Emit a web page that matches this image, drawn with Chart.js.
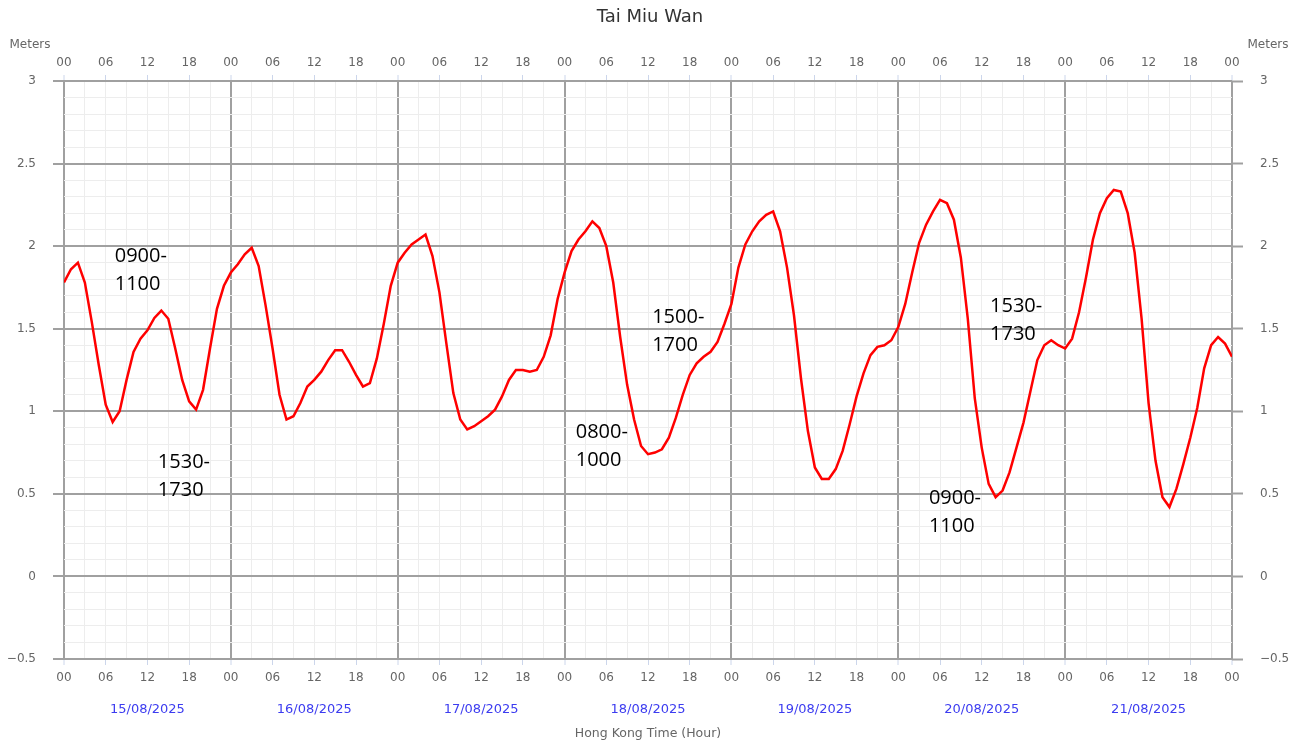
<!DOCTYPE html>
<html>
<head>
<meta charset="utf-8">
<title>Tai Miu Wan</title>
<script src="https://cdn.jsdelivr.net/npm/chart.js@4.4.1/dist/chart.umd.min.js"></script>
<style>
  html, body { margin: 0; padding: 0; background: #ffffff; }
  #wrap { width: 1300px; height: 745px; position: relative; }
</style>
</head>
<body>
<div id="wrap"><canvas id="tide"></canvas></div>
<script>
// Station and calendar
const stationName = 'Tai Miu Wan';
const dayLabels = ['15/08/2025', '16/08/2025', '17/08/2025', '18/08/2025', '19/08/2025', '20/08/2025', '21/08/2025'];

// Hourly tide height (m), 00:00 .. 23:00 of each day
const tide15 = [1.78, 1.86, 1.90, 1.78, 1.54, 1.28, 1.04, 0.935, 1.00, 1.19, 1.36, 1.44, 1.49, 1.565, 1.61, 1.56, 1.38, 1.19, 1.06, 1.01, 1.13, 1.38, 1.62, 1.76];
const tide16 = [1.84, 1.89, 1.95, 1.99, 1.88, 1.64, 1.38, 1.10, 0.95, 0.97, 1.05, 1.15, 1.19, 1.24, 1.31, 1.37, 1.37, 1.30, 1.22, 1.15, 1.17, 1.32, 1.53, 1.76];
const tide17 = [1.90, 1.96, 2.01, 2.04, 2.07, 1.94, 1.72, 1.41, 1.11, 0.95, 0.89, 0.91, 0.94, 0.97, 1.01, 1.09, 1.19, 1.25, 1.25, 1.24, 1.25, 1.33, 1.46, 1.68];
const tide18 = [1.84, 1.97, 2.04, 2.09, 2.15, 2.11, 2.00, 1.78, 1.45, 1.16, 0.95, 0.79, 0.74, 0.75, 0.77, 0.84, 0.96, 1.10, 1.22, 1.29, 1.33, 1.36, 1.42, 1.53];
const tide19 = [1.65, 1.87, 2.01, 2.09, 2.15, 2.19, 2.21, 2.09, 1.87, 1.58, 1.20, 0.88, 0.66, 0.59, 0.59, 0.65, 0.76, 0.92, 1.09, 1.23, 1.34, 1.39, 1.40, 1.43];
const tide20 = [1.51, 1.65, 1.84, 2.02, 2.13, 2.21, 2.28, 2.26, 2.16, 1.93, 1.56, 1.08, 0.78, 0.56, 0.48, 0.52, 0.63, 0.78, 0.93, 1.12, 1.31, 1.40, 1.43, 1.40];
const tide21 = [1.38, 1.44, 1.60, 1.81, 2.04, 2.20, 2.29, 2.34, 2.33, 2.20, 1.96, 1.56, 1.05, 0.70, 0.48, 0.42, 0.53, 0.68, 0.84, 1.02, 1.26, 1.40, 1.45, 1.41];
const tide22 = [1.33]; // 22/08 00:00

// Axis ticks
const hourTicks = [];          // every 3 h, labelled every 6 h
for (let h = 0; h <= 168; h += 3) hourTicks.push(h);
const levelTicks = [];         // every 0.1 m, labelled every 0.5 m
for (let k = -5; k <= 30; k++) levelTicks.push(k / 10);
const dayCentres = dayLabels.map((_, i) => 12 + 24 * i);

// Time windows written beside the curve: anchor hour, anchor level, text lines
const windowNotes = [
  { hour: 7.3,   level: 1.945, lines: ['0900-', '1100'] },
  { hour: 13.5,  level: 0.70,  lines: ['1530-', '1730'] },
  { hour: 73.6,  level: 0.88,  lines: ['0800-', '1000'] },
  { hour: 84.6,  level: 1.576, lines: ['1500-', '1700'] },
  { hour: 133.2, level: 1.642, lines: ['1530-', '1730'] },
  { hour: 124.4, level: 0.479, lines: ['0900-', '1100'] }
];

const series = [tide15, tide16, tide17, tide18, tide19, tide20, tide21, tide22].flat();
const points = series.map((v, i) => ({ x: i, y: v }));

const isDay = v => Math.abs(v % 24) < 1e-6;
const isSix = v => Math.abs(v % 6) < 1e-6;
const isHalf = v => Math.abs(v * 2 - Math.round(v * 2)) < 1e-6;

const MAJOR = '#a0a0a0';
const MINOR = '#ededed';
const TICKBLUE = '#ccd6eb';
const TEXT = '#666666';

Chart.defaults.font.family = '"DejaVu Sans", sans-serif';
Chart.defaults.font.size = 12;
Chart.defaults.color = TEXT;

const hourLabel = v => isSix(v) ? String(v % 24).padStart(2, '0') : '';
const levelLabel = v => {
  if (!isHalf(v)) return '';
  const r = Math.round(v * 10) / 10;
  return r < 0 ? '\u2212' + Math.abs(r) : String(r);
};

const textPlugin = {
  id: 'tideText',
  afterDatasetsDraw(chart) {
    const { ctx, scales } = chart;
    ctx.save();
    ctx.fillStyle = '#000000';
    ctx.font = '20px "Open Sans", sans-serif';
    ctx.textAlign = 'left';
    ctx.textBaseline = 'middle';
    windowNotes.forEach(n => {
      const x = scales.x.getPixelForValue(n.hour);
      const y = scales.y.getPixelForValue(n.level);
      n.lines.forEach((t, i) => ctx.fillText(t, x, y + 1 + i * 28));
    });
    ctx.restore();
  },
  afterDraw(chart) {
    const { ctx, chartArea } = chart;
    ctx.save();
    ctx.textBaseline = 'middle';
    ctx.textAlign = 'center';
    ctx.fillStyle = '#333333';
    ctx.font = '18px "DejaVu Sans", sans-serif';
    ctx.fillText(stationName, chart.width / 2, 17);
    ctx.fillStyle = TEXT;
    ctx.font = '12px "DejaVu Sans", sans-serif';
    ctx.fillText('Meters', chartArea.left - 34, 45);
    ctx.fillText('Meters', chartArea.right + 36, 45);
    ctx.restore();
  }
};

const xGrid = {
  color: c => isDay(c.tick.value) ? MAJOR : MINOR,
  lineWidth: c => isDay(c.tick.value) ? 2 : 1,
  tickColor: c => isSix(c.tick.value) ? TICKBLUE : 'transparent',
  tickWidth: 1,
  tickLength: 6
};
const yGridColor = c => isHalf(c.tick.value) ? MAJOR : MINOR;

new Chart(document.getElementById('tide'), {
  type: 'line',
  data: {
    datasets: [{
      label: stationName,
      data: points,
      borderColor: '#ff0000',
      borderWidth: 2.5,
      pointRadius: 0,
      tension: 0,
      fill: false,
      xAxisID: 'x',
      yAxisID: 'y'
    }]
  },
  options: {
    responsive: true,
    maintainAspectRatio: false,
    animation: false,
    devicePixelRatio: 1,
    layout: { padding: 0 },
    plugins: {
      legend: { display: false },
      tooltip: { enabled: false },
      title: { display: false }
    },
    scales: {
      x: {
        type: 'linear', position: 'bottom', min: 0, max: 168,
        afterBuildTicks: s => { s.ticks = hourTicks.map(v => ({ value: v })); },
        afterFit: s => { s.height = 30; },
        grid: xGrid,
        border: { display: false },
        ticks: { autoSkip: false, maxRotation: 0, padding: 6, callback: hourLabel, color: TEXT }
      },
      xTop: {
        type: 'linear', position: 'top', min: 0, max: 168,
        afterBuildTicks: s => { s.ticks = hourTicks.map(v => ({ value: v })); },
        afterFit: s => { s.height = 81; },
        grid: Object.assign({}, xGrid, { drawOnChartArea: false, color: 'transparent' }),
        border: { display: false },
        ticks: { autoSkip: false, maxRotation: 0, padding: 5, callback: hourLabel, color: TEXT }
      },
      xDate: {
        type: 'linear', position: 'bottom', min: 0, max: 168, weight: 1,
        afterBuildTicks: s => { s.ticks = dayCentres.map(v => ({ value: v })); },
        afterFit: s => { s.height = 56; },
        grid: { display: false },
        border: { display: false },
        ticks: {
          autoSkip: false, maxRotation: 0, padding: 5,
          color: '#3c3cf0', font: { size: 13 },
          callback: (v, i) => dayLabels[i]
        },
        title: {
          display: true, text: 'Hong Kong Time (Hour)', color: TEXT,
          font: { size: 12.5 }, padding: { top: 0, bottom: 4 }
        }
      },
      y: {
        type: 'linear', position: 'left', min: -0.5, max: 3,
        afterBuildTicks: s => { s.ticks = levelTicks.map(v => ({ value: v })); },
        afterFit: s => { s.width = 64; },
        grid: {
          color: yGridColor,
          lineWidth: c => isHalf(c.tick.value) ? 2 : 1,
          tickColor: c => isHalf(c.tick.value) ? MAJOR : 'transparent',
          tickWidth: 2,
          tickLength: 11
        },
        border: { display: false },
        ticks: { autoSkip: false, padding: 17, callback: levelLabel, color: TEXT }
      },
      yRight: {
        type: 'linear', position: 'right', min: -0.5, max: 3,
        afterBuildTicks: s => { s.ticks = levelTicks.map(v => ({ value: v })); },
        afterFit: s => { s.width = 68; },
        grid: {
          drawOnChartArea: false,
          color: 'transparent',
          tickColor: c => isHalf(c.tick.value) ? MAJOR : 'transparent',
          tickWidth: 2,
          tickLength: 11
        },
        border: { display: false },
        ticks: { autoSkip: false, padding: 17, callback: levelLabel, color: TEXT }
      }
    }
  },
  plugins: [textPlugin]
});
</script>
</body>
</html>
